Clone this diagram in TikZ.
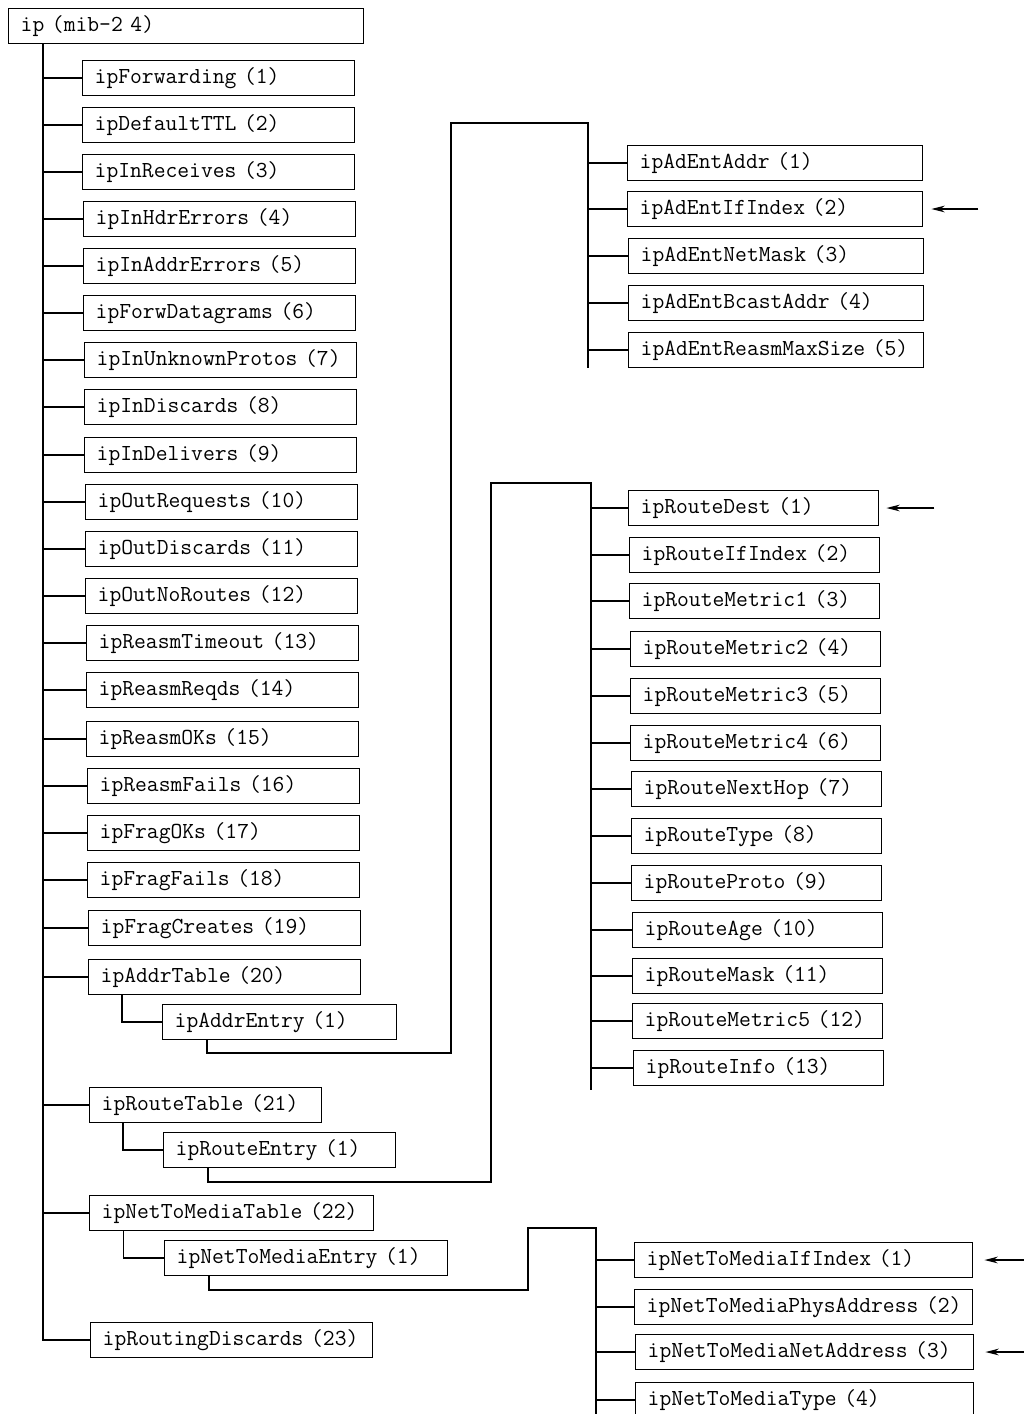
\documentclass[tikz,border=0pt]{standalone}
\usetikzlibrary{arrows.meta}
\tikzset{
  box/.style={draw, line width=1.1pt, anchor=west, inner xsep=9pt, inner ysep=0pt,
    minimum height=26.25pt, align=left, font=\ttfamily\fontsize{17.2}{19}\selectfont,
    execute at begin node={\hbox\bgroup}, execute at end node={\egroup}},
  tw/.style={box, text width=#1},
  link/.style={line width=0.9pt},
  ptr/.style={line width=0.9pt, -{Stealth[length=10pt,width=5pt]}},
}
\begin{document}
\begin{tikzpicture}[x=0.75pt,y=-0.75pt]
\useasboundingbox (0,0) rectangle (1024,1414);
\clip (0,0) rectangle (1024,1414);

% root
\node[tw=248.25pt] (root) at (8,26) {ip (mib-2 4)};

% left column
\node[tw=186pt] (n1) at (82,78) {ipForwarding (1)};
\node[tw=186pt] (n2) at (82,125) {ipDefaultTTL (2)};
\node[tw=186pt] (n3) at (82,172) {ipInReceives (3)};
\node[tw=186pt] (n4) at (83,219) {ipInHdrErrors (4)};
\node[tw=186pt] (n5) at (83,266) {ipInAddrErrors (5)};
\node[tw=186pt] (n6) at (83,313) {ipForwDatagrams (6)};
\node[tw=186pt] (n7) at (84,360) {ipInUnknownProtos (7)};
\node[tw=186pt] (n8) at (84,407) {ipInDiscards (8)};
\node[tw=186pt] (n9) at (84,455) {ipInDelivers (9)};
\node[tw=186pt] (n10) at (85,502) {ipOutRequests (10)};
\node[tw=186pt] (n11) at (85,549) {ipOutDiscards (11)};
\node[tw=186pt] (n12) at (85,596) {ipOutNoRoutes (12)};
\node[tw=186pt] (n13) at (86,643) {ipReasmTimeout (13)};
\node[tw=186pt] (n14) at (86,690) {ipReasmReqds (14)};
\node[tw=186pt] (n15) at (86,739) {ipReasmOKs (15)};
\node[tw=186pt] (n16) at (87,786) {ipReasmFails (16)};
\node[tw=186pt] (n17) at (87,833) {ipFragOKs (17)};
\node[tw=186pt] (n18) at (87,880) {ipFragFails (18)};
\node[tw=186pt] (n19) at (88,928) {ipFragCreates (19)};
\node[tw=186pt] (n20) at (88,977) {ipAddrTable (20)};
\node[tw=156pt] (n21) at (89,1105) {ipRouteTable (21)};
\node[tw=195pt] (n22) at (89,1213) {ipNetToMediaTable (22)};
\node[tw=193.5pt] (n23) at (90,1340) {ipRoutingDiscards (23)};

% entries
\node[tw=157.5pt] (ae) at (162,1022) {ipAddrEntry (1)};
\node[tw=156pt] (re) at (163,1150) {ipRouteEntry (1)};
\node[tw=194.25pt] (ne) at (164,1258) {ipNetToMediaEntry (1)};

% address entry columns
\node[tw=203.25pt] (a1) at (627,163) {ipAdEntAddr (1)};
\node[tw=203.25pt] (a2) at (627,209) {ipAdEntIfIndex (2)};
\node[tw=203.25pt] (a3) at (628,256) {ipAdEntNetMask (3)};
\node[tw=203.25pt] (a4) at (628,303) {ipAdEntBcastAddr (4)};
\node[tw=203.25pt] (a5) at (628,350) {ipAdEntReasmMaxSize (5)};

% route entry columns
\node[tw=169.5pt] (r1) at (628,508) {ipRouteDest (1)};
\node[tw=169.5pt] (r2) at (629,555) {ipRouteIfIndex (2)};
\node[tw=169.5pt] (r3) at (629,601) {ipRouteMetric1 (3)};
\node[tw=169.5pt] (r4) at (630,649) {ipRouteMetric2 (4)};
\node[tw=169.5pt] (r5) at (630,696) {ipRouteMetric3 (5)};
\node[tw=169.5pt] (r6) at (630,743) {ipRouteMetric4 (6)};
\node[tw=169.5pt] (r7) at (631,789) {ipRouteNextHop (7)};
\node[tw=169.5pt] (r8) at (631,836) {ipRouteType (8)};
\node[tw=169.5pt] (r9) at (631,883) {ipRouteProto (9)};
\node[tw=169.5pt] (r10) at (632,930) {ipRouteAge (10)};
\node[tw=169.5pt] (r11) at (632,976) {ipRouteMask (11)};
\node[tw=169.5pt] (r12) at (632,1021) {ipRouteMetric5 (12)};
\node[tw=169.5pt] (r13) at (633,1068) {ipRouteInfo (13)};

% net-to-media entry columns
\node[tw=235.5pt] (m1) at (634,1260) {ipNetToMediaIfIndex (1)};
\node[tw=235.5pt] (m2) at (634,1307) {ipNetToMediaPhysAddress (2)};
\node[tw=235.5pt] (m3) at (635,1352) {ipNetToMediaNetAddress (3)};
\node[tw=235.5pt] (m4) at (635,1400) {ipNetToMediaType (4)};

% main trunk
\coordinate (t0) at ([xshift=26.25pt]root.south west);
\draw[link] (t0) |- (n23.west);
\foreach \n in {n1,n2,n3,n4,n5,n6,n7,n8,n9,n10,n11,n12,n13,n14,n15,n16,n17,n18,n19,n20,n21,n22}
  \draw[link] (\n.west) -- (\n.west -| t0);

% table -> entry
\draw[link] ([xshift=25.5pt]n20.south west) |- (ae.west);
\draw[link] ([xshift=25.5pt]n21.south west) |- (re.west);
\draw[link] ([xshift=26pt]n22.south west) |- (ne.west);

% ipAddrEntry -> columns
\coordinate (ab) at (451,1053);
\coordinate (at) at (451,123);
\coordinate (atr) at (588,123);
\coordinate (abt) at (588,368);
\draw[link] ([xshift=33.75pt]ae.south west) |- (ab) -- (at) -- (atr) -- (abt);
\foreach \n in {a1,a2,a3,a4,a5}
  \draw[link] (\n.west) -- (\n.west -| atr);

% ipRouteEntry -> columns
\coordinate (rb) at (491,1182);
\coordinate (rt) at (491,483);
\coordinate (rtr) at (591,483);
\coordinate (rbt) at (591,1090);
\draw[link] ([xshift=33.75pt]re.south west) |- (rb) -- (rt) -- (rtr) -- (rbt);
\foreach \n in {r1,r2,r3,r4,r5,r6,r7,r8,r9,r10,r11,r12,r13}
  \draw[link] (\n.west) -- (\n.west -| rtr);

% ipNetToMediaEntry -> columns
\coordinate (mb) at (528,1290);
\coordinate (mt) at (528,1228);
\coordinate (mtr) at (596,1228);
\coordinate (mbt) at (596,1420);
\draw[link] ([xshift=33.75pt]ne.south west) |- (mb) -- (mt) -- (mtr) -- (mbt);
\foreach \n in {m1,m2,m3,m4}
  \draw[link] (\n.west) -- (\n.west -| mtr);

% index pointers
\draw[ptr] ([xshift=41.25pt]a2.east) -- ([xshift=6pt]a2.east);
\draw[ptr] ([xshift=41.25pt]r1.east) -- ([xshift=5.25pt]r1.east);
\draw[ptr] ([xshift=43.5pt]m1.east) -- ([xshift=8.25pt]m1.east);
\draw[ptr] ([xshift=43.5pt]m3.east) -- ([xshift=8.25pt]m3.east);
\end{tikzpicture}
\end{document}
